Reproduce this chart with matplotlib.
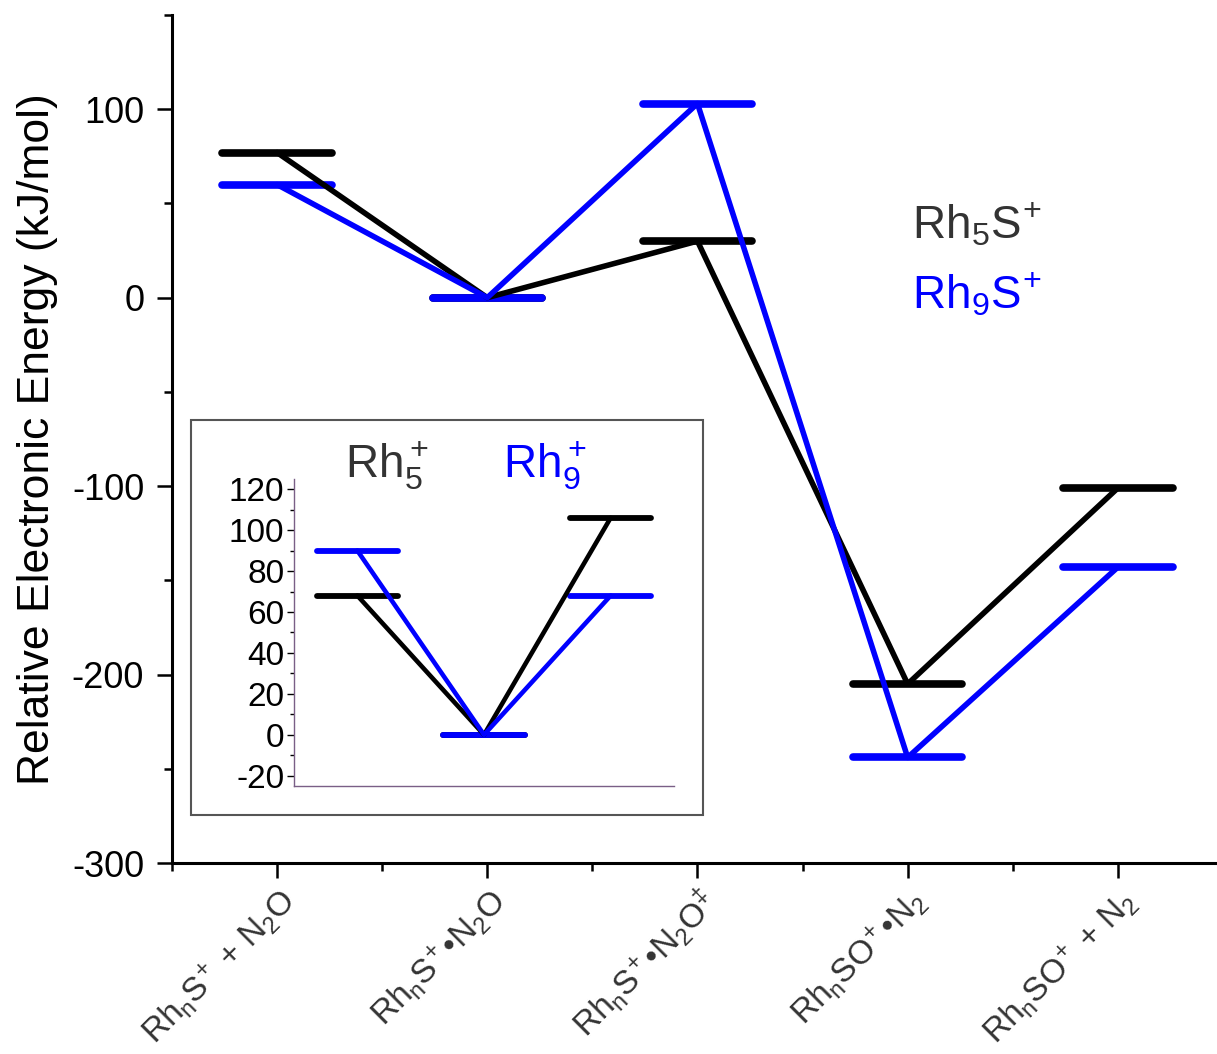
import matplotlib
matplotlib.use("Agg")
import matplotlib.pyplot as plt
from matplotlib.patches import Rectangle
from matplotlib.ticker import MultipleLocator

plt.rcParams['font.family'] = 'Liberation Sans'
plt.rcParams['mathtext.fontset'] = 'custom'
plt.rcParams['mathtext.rm'] = 'Liberation Sans'
plt.rcParams['mathtext.it'] = 'Liberation Sans:italic'
plt.rcParams['mathtext.bf'] = 'Liberation Sans:bold'
plt.rcParams['axes.unicode_minus'] = False

# reaction coordinate (main plot)
states = [1, 2, 3, 4, 5]
state_labels = [
    r'Rh$_\mathrm{n}$S$^{\!+}$ + N$_2$O',
    r'Rh$_\mathrm{n}$S$^{\!+}$•N$_2$O',
    r'Rh$_\mathrm{n}$S$^{\!+}$•N$_2$O$^\mathrm{‡}$',
    r'Rh$_\mathrm{n}$SO$^{\!+}$•N$_2$',
    r'Rh$_\mathrm{n}$SO$^{\!+}$ + N$_2$',
]
rh5s = [77, 0, 30, -205, -101]
rh9s = [60, 0, 103, -244, -143]

# bare clusters (inset)
inset_states = [1, 2, 3]
rh5 = [68, 0, 106]
rh9 = [90, 0, 68]

BLUE = '#0000ff'
GREY = '#333333'

fig = plt.figure(figsize=(12.17, 10.54), dpi=100)
ax = fig.add_axes([0.1413, 0.1812, 0.8636, 0.8046])


def levels(a, x, y, color, half, lw):
    bars = a.hlines(y, [v - half for v in x], [v + half for v in x],
                    colors=color, linewidth=lw, zorder=2)
    bars.set_capstyle('round')
    return bars


def path(a, x, y, color, lw):
    a.plot(x, y, color=color, lw=lw, solid_capstyle='round',
           solid_joinstyle='round', zorder=3)


levels(ax, states, rh5s, 'black', 0.26, 5.5)
levels(ax, states, rh9s, BLUE, 0.26, 5.5)
path(ax, states, rh5s, 'black', 4)
path(ax, states, rh9s, BLUE, 4)

ax.set_xlim(0.5, 5.5)
ax.set_ylim(-300, 150)
ax.spines['top'].set_visible(False)
ax.spines['right'].set_visible(False)
for s in ('left', 'bottom'):
    ax.spines[s].set_linewidth(2.2)
ax.yaxis.set_major_locator(MultipleLocator(100))
ax.yaxis.set_minor_locator(MultipleLocator(50))
ax.xaxis.set_minor_locator(MultipleLocator(0.5))
ax.tick_params(which='major', length=11, width=1.8, labelsize=26)
ax.tick_params(axis='y', which='major', pad=9)
ax.tick_params(which='minor', length=6, width=1.8)
ax.set_xticks(states)
ax.set_xticklabels(state_labels, rotation=45, ha='right',
                   rotation_mode='anchor', color=GREY, fontsize=24)
ax.set_ylabel('Relative Electronic Energy (kJ/mol)', fontsize=32)
ax.yaxis.set_label_coords(-0.108, 0.5)

fig.text(912 / 1217, 1 - 238 / 1054, r'Rh$_5$S$^{\!+}$', color=GREY,
         fontsize=33, va='baseline')
fig.text(912 / 1217, 1 - 308 / 1054, r'Rh$_9$S$^{\!+}$', color=BLUE,
         fontsize=33, va='baseline')

# inset frame
fig.patches.append(Rectangle((191 / 1217, 1 - 815 / 1054), 512 / 1217,
                             395 / 1054, transform=fig.transFigure,
                             facecolor='white', edgecolor='#555555',
                             lw=1.5, zorder=5))

axi = fig.add_axes([0.2416, 0.2543, 0.3122, 0.2913], zorder=6)
axi.patch.set_alpha(0)
levels(axi, inset_states, rh5, 'black', 0.32, 4.2)
levels(axi, inset_states, rh9, BLUE, 0.32, 4.2)
path(axi, inset_states, rh5, 'black', 3.3)
path(axi, inset_states, rh9, BLUE, 3.3)
axi.set_xlim(0.5, 3.5)
axi.set_ylim(-25, 125)
axi.spines['top'].set_visible(False)
axi.spines['right'].set_visible(False)
for s in ('left', 'bottom'):
    axi.spines[s].set_color('#7a5f86')
    axi.spines[s].set_linewidth(1)
axi.set_xticks([])
axi.yaxis.set_major_locator(MultipleLocator(20))
axi.yaxis.set_minor_locator(MultipleLocator(10))
axi.tick_params(axis='y', which='major', length=5, width=1, labelsize=24,
                pad=2)
axi.tick_params(axis='y', which='minor', length=3, width=1)

fig.text(345 / 1217, 1 - 477 / 1054, r'Rh$_5^+$', color=GREY, fontsize=33,
         va='baseline', zorder=7)
fig.text(503 / 1217, 1 - 477 / 1054, r'Rh$_9^+$', color=BLUE, fontsize=33,
         va='baseline', zorder=7)

fig.savefig('out.png', dpi=100)
